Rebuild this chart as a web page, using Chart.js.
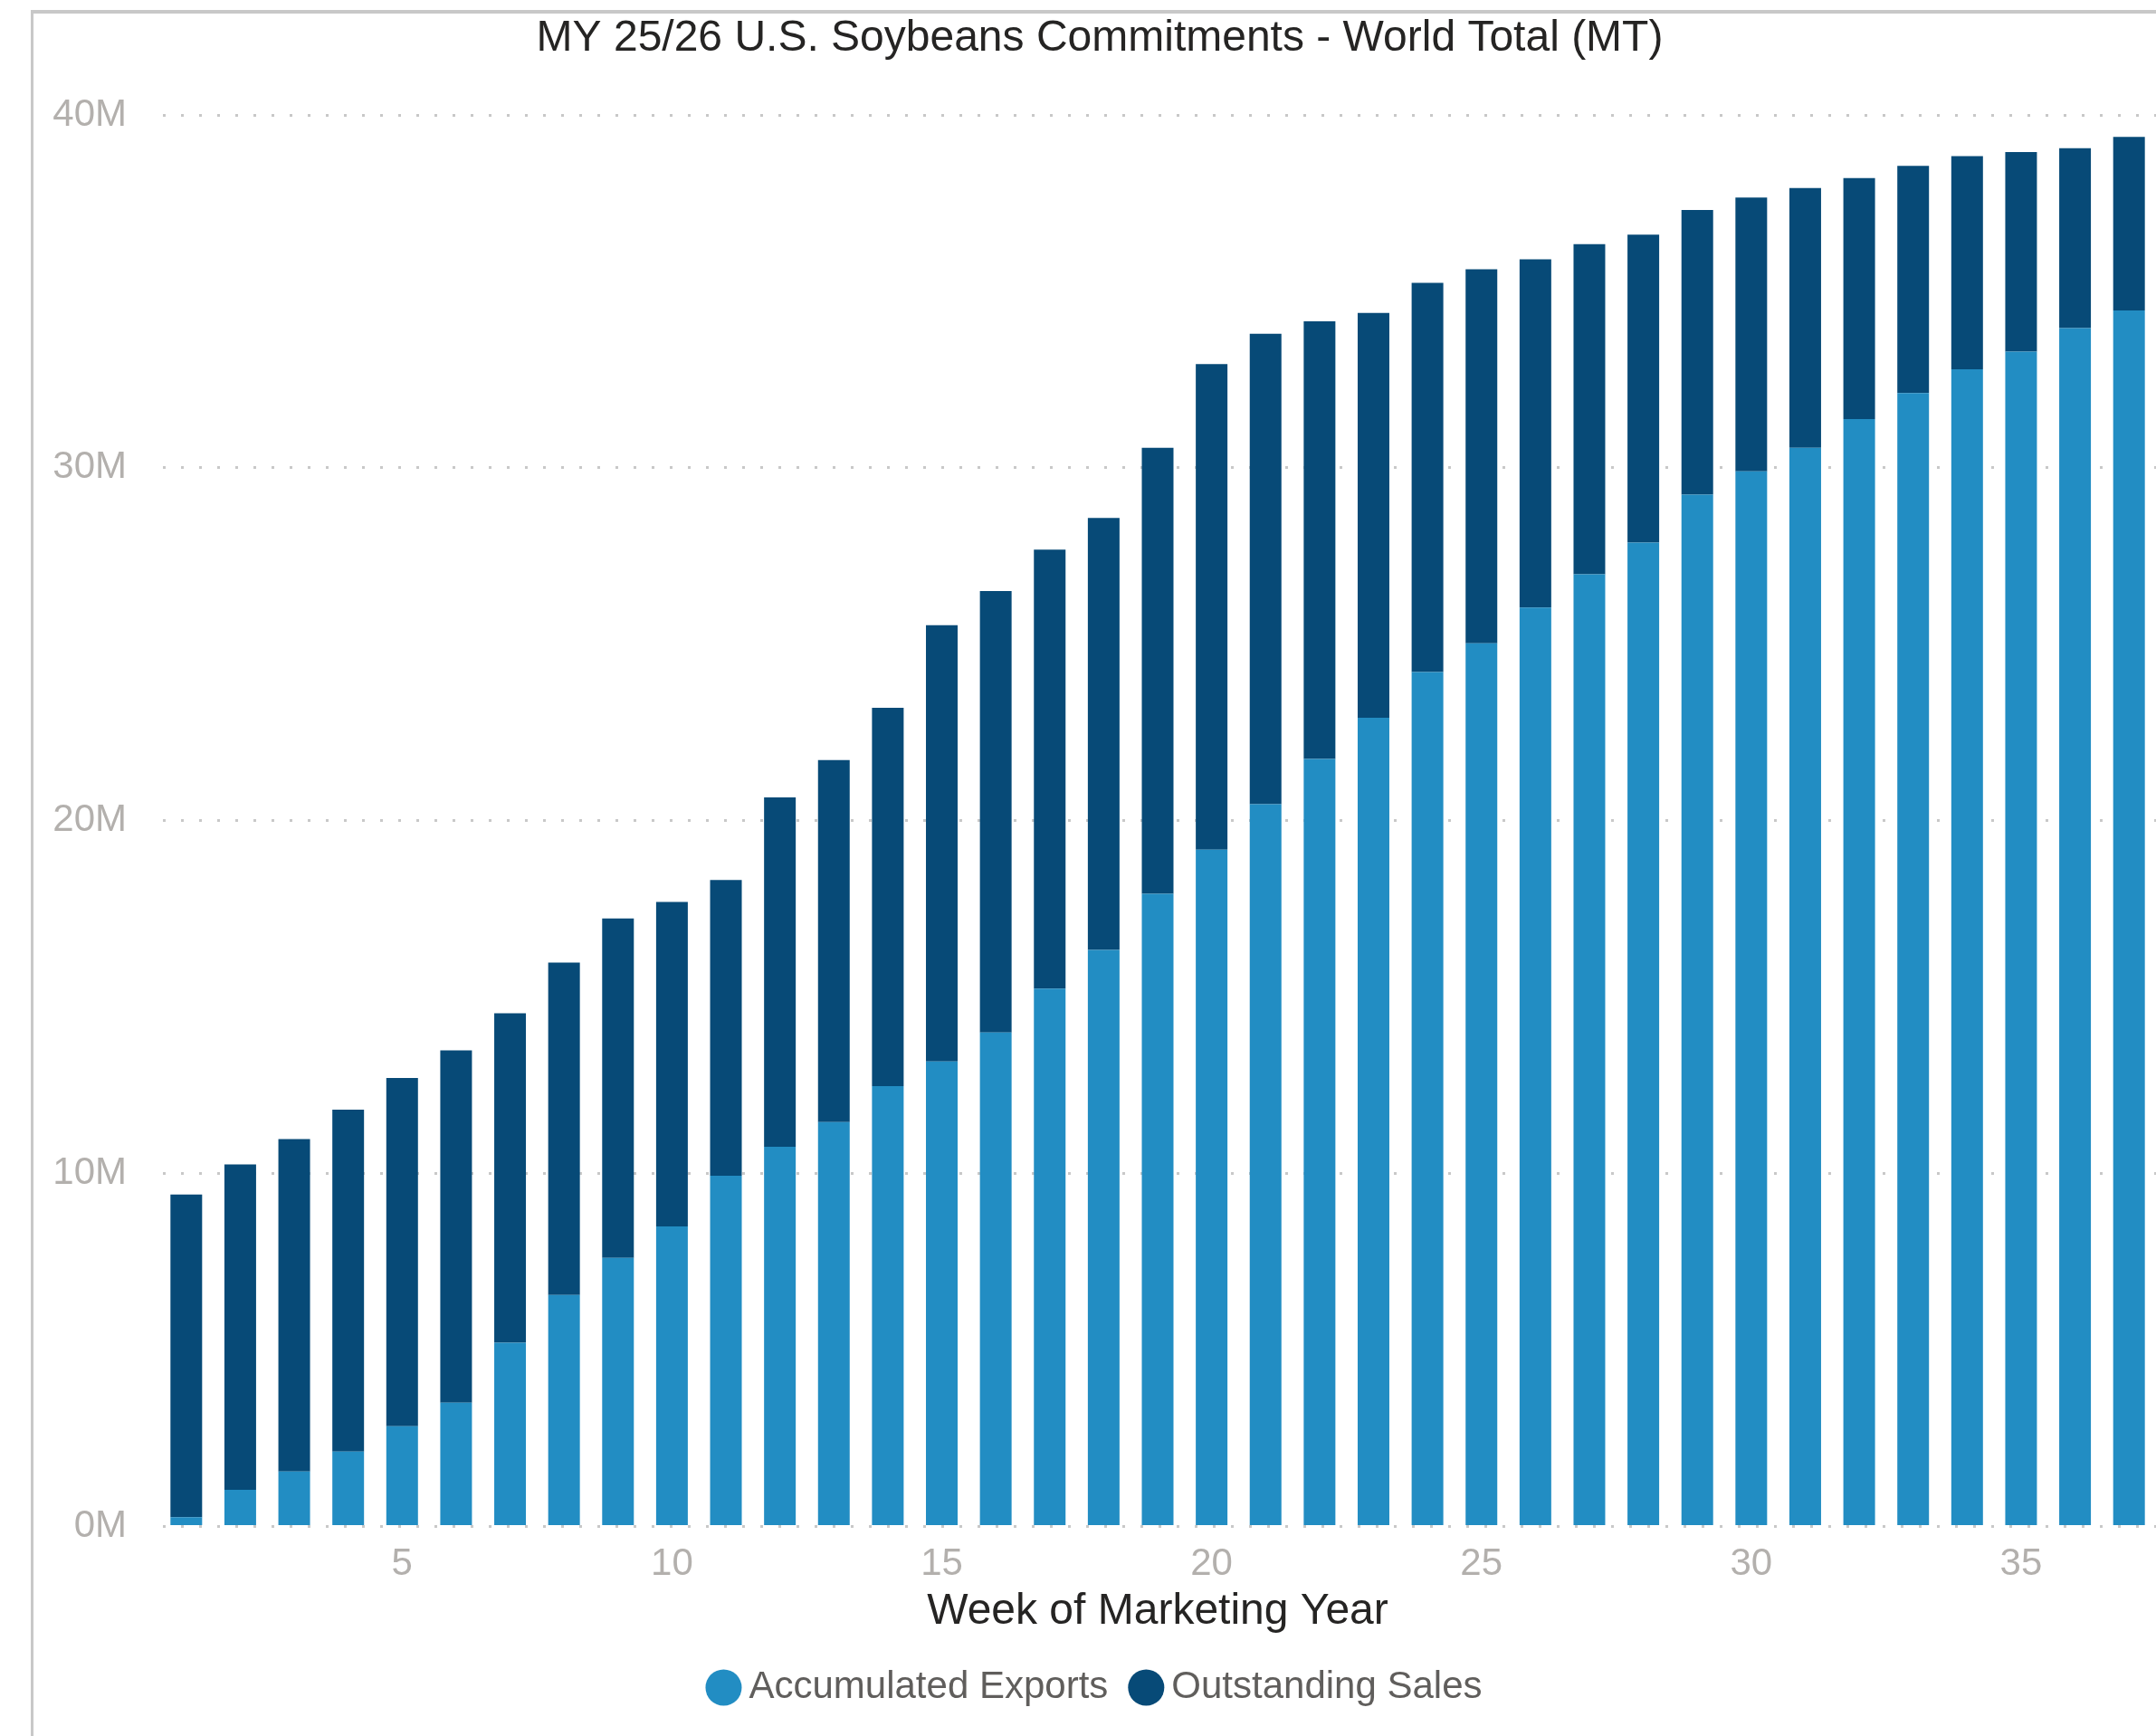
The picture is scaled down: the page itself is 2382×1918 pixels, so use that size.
<!DOCTYPE html>
<html>
<head>
<meta charset="utf-8">
<script src="https://cdn.jsdelivr.net/npm/chart.js@4.4.1/dist/chart.umd.min.js"></script>
<style>
  html, body { margin: 0; padding: 0; background: #ffffff; }
  body { width: 2382px; height: 1918px; position: relative; overflow: hidden; }
  #frame { position: absolute; left: 34px; top: 11px; width: 2400px; height: 2000px;
           border-left: 3px solid #c8c8c8; border-top: 4px solid #c8c8c8; box-sizing: border-box; }
  #c { position: absolute; left: 0; top: 0; }
</style>
</head>
<body>
<div id="frame"></div>
<canvas id="c" width="2382" height="1918"></canvas>
<script>
// ---- Data (values in millions of MT) ----
const chartTitle = 'MY 25/26 U.S. Soybeans Commitments - World Total (MT)';
const xAxisTitle = 'Week of Marketing Year';
const weeks = [1,2,3,4,5,6,7,8,9,10,11,12,13,14,15,16,17,18,19,20,21,22,23,24,25,26,27,28,29,30,31,32,33,34,35,36,37];
const accumulatedExports = [0.26,1.04,1.56,2.12,2.84,3.51,5.21,6.56,7.61,8.50,9.94,10.76,11.46,12.48,13.18,14.00,15.24,16.34,17.93,19.18,20.47,21.75,22.92,24.21,25.03,26.04,26.98,27.88,29.24,29.90,30.57,31.38,32.12,32.79,33.29,33.96,34.46];
const outstandingSales = [9.15,9.22,9.42,9.69,9.87,9.98,9.33,9.42,9.62,9.20,8.38,9.90,10.26,10.72,12.36,12.51,12.44,12.24,12.64,13.76,13.33,12.40,11.47,11.03,10.60,9.87,9.36,8.73,8.07,7.76,7.36,6.83,6.44,6.04,5.66,5.10,4.92];
const xTickWeeks = [5,10,15,20,25,30,35];
const yTicks = [0,10,20,30,40];

const FONT = "'Liberation Sans', Arial, sans-serif";
const TICK_COLOR = '#b3b0ad';

new Chart(document.getElementById('c'), {
  type: 'bar',
  data: {
    labels: weeks,
    datasets: [
      { label: 'Accumulated Exports', data: accumulatedExports, backgroundColor: '#228dc3',
        barPercentage: 0.587, categoryPercentage: 1.0, borderWidth: 0 },
      { label: 'Outstanding Sales', data: outstandingSales, backgroundColor: '#074a77',
        barPercentage: 0.587, categoryPercentage: 1.0, borderWidth: 0 }
    ]
  },
  options: {
    responsive: false,
    animation: false,
    devicePixelRatio: 1,
    layout: { padding: { left: 48, right: 0, top: 0, bottom: 22.5 } },
    plugins: {
      title: {
        display: true, text: chartTitle, color: '#252423',
        font: { family: FONT, size: 48, weight: 'normal' },
        padding: { top: 14, bottom: 55.4 }
      },
      legend: {
        display: true, position: 'bottom',
        labels: {
          usePointStyle: true, pointStyle: 'circle', boxWidth: 14, boxHeight: 28.3,
          padding: 35, color: '#605e5c',
          font: { family: FONT, size: 42 }
        }
      },
      tooltip: { enabled: false }
    },
    scales: {
      x: {
        stacked: true,
        grid: { display: false, drawTicks: false },
        border: { display: false },
        ticks: {
          autoSkip: false, maxRotation: 0, minRotation: 0, padding: 17,
          color: TICK_COLOR, font: { family: FONT, size: 42 },
          callback: function(val, idx) { return xTickWeeks.includes(weeks[idx]) ? String(weeks[idx]) : ''; }
        },
        title: {
          display: true, text: xAxisTitle, color: '#252423',
          font: { family: FONT, size: 48 },
          padding: { top: -19, bottom: -1 }
        }
      },
      y: {
        stacked: true,
        min: yTicks[0], max: yTicks[yTicks.length - 1],
        afterBuildTicks: function(scale) { scale.ticks = yTicks.map(v => ({ value: v })); },
        afterFit: function(scale) { scale.width = 128; },
        grid: { display: true, drawTicks: false, color: '#c8c8c8', lineWidth: 3 },
        border: { display: false, dash: [3, 17], dashOffset: -4 },
        ticks: {
          padding: 36, color: TICK_COLOR, font: { family: FONT, size: 42 },
          callback: function(v) { return v + 'M'; }
        }
      }
    }
  }
});
</script>
</body>
</html>
